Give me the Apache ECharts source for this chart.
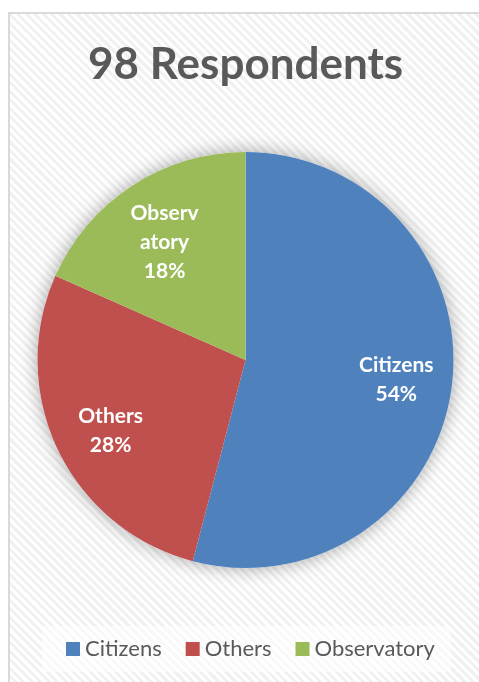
<!DOCTYPE html>
<html>
<head>
<meta charset="utf-8">
<script src="https://cdn.jsdelivr.net/npm/echarts@6/dist/echarts.min.js"></script>
<style>
  html, body { margin: 0; padding: 0; width: 479px; height: 682px; overflow: hidden; background: #fff; }
  #frame {
    position: absolute; left: 8px; top: 12px; width: 490px; height: 690px;
    border: 2px solid #d9d9d9; box-sizing: border-box;
    background: repeating-linear-gradient(45deg, #ffffff 0px, #ffffff 3px, #f1f1f1 3px, #f1f1f1 6px);
  }
  #chart { position: absolute; left: 0; top: 0; width: 479px; height: 682px; }
</style>
</head>
<body>
<div id="frame"></div>
<div id="chart"></div>
<script>
const titleText = '98 Respondents';
const categories = ['Citizens', 'Others', 'Observatory'];
const counts = [53, 27, 18];
const sliceLabels = ['Citizens', 'Others', 'Observ\natory'];
const colors = ['#4F81BD', '#C0504D', '#9BBB59'];

const chart = echarts.init(document.getElementById('chart'), null, { renderer: 'canvas' });
const FONT = 'Lato, "Noto Sans", sans-serif';
const center = [245.5, 360];
const R = 208;
// small label nudges (style only), to match the reference label placement
const labelNudge = [[0, 0], [2, 5], [2, 10]];

const mainData = categories.map((c, i) => ({ name: c, value: counts[i], itemStyle: { color: colors[i] } }));
const labelData = categories.map((c, i) => ({
  name: c, value: counts[i],
  itemStyle: { color: 'rgba(0,0,0,0)' },
  label: { offset: labelNudge[i] }
}));

chart.setOption({
  backgroundColor: 'transparent',
  animation: false,
  title: {
    text: titleText,
    left: 83,
    top: 38,
    textStyle: { fontFamily: FONT, fontWeight: 'bold', fontSize: 44, color: '#595959' }
  },
  legend: {
    data: categories,
    bottom: 10,
    left: 42,
    itemWidth: 14,
    itemHeight: 14,
    itemGap: 24,
    icon: 'rect',
    padding: [12, 16, 12, 24],
    backgroundColor: 'rgba(255,255,255,0.6)',
    textStyle: { fontFamily: FONT, fontSize: 22, color: '#595959' }
  },
  series: [
    {
      type: 'pie', silent: true, center: center, radius: R, z: 1,
      data: [{ value: 1, name: '' }],
      label: { show: false }, labelLine: { show: false },
      itemStyle: { color: '#ffffff', shadowBlur: 18, shadowColor: 'rgba(0,0,0,0.35)' }
    },
    {
      type: 'pie', center: center, radius: R, startAngle: 90, clockwise: true, z: 2,
      data: mainData,
      label: { show: false }, labelLine: { show: false },
      itemStyle: { borderWidth: 0 },
      emphasis: { disabled: true }
    },
    {
      type: 'pie', silent: true, center: center, radius: [90, R], startAngle: 90, clockwise: true, z: 3,
      percentPrecision: 0,
      data: labelData,
      labelLine: { show: false },
      label: {
        show: true, position: 'inside',
        formatter: p => sliceLabels[p.dataIndex] + '\n' + p.percent + '%',
        fontFamily: FONT, fontWeight: 'bold', fontSize: 21, lineHeight: 29, color: '#ffffff'
      },
      emphasis: { disabled: true }
    }
  ]
});
</script>
</body>
</html>
